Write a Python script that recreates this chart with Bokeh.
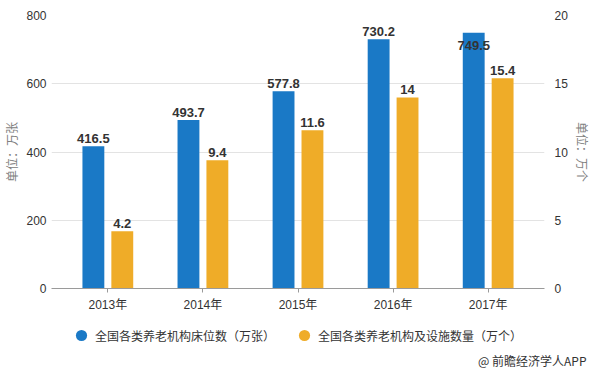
from bokeh.plotting import figure
from bokeh.models import (Range1d, FactorRange, LinearAxis, FixedTicker, Legend, LegendItem,
                          Title, ColumnDataSource)
from bokeh.layouts import column
from bokeh.transform import dodge
from bokeh.core.properties import value
from bokeh.embed import file_html
from bokeh.resources import INLINE

# ---- data ----
years = ["2013年", "2014年", "2015年", "2016年", "2017年"]
beds = [416.5, 493.7, 577.8, 730.2, 749.5]          # 万张 (left axis)
institutions = [4.2, 9.4, 11.6, 14.0, 15.4]          # 万个 (right axis)
beds_labels = ["416.5", "493.7", "577.8", "730.2", "749.5"]
inst_labels = ["4.2", "9.4", "11.6", "14", "15.4"]
left_ticks = [0, 200, 400, 600, 800]
right_ticks = [0, 5, 10, 15, 20]
series_names = ["全国各类养老机构床位数（万张）", "全国各类养老机构及设施数量（万个）"]
left_unit = "单位：万张"
right_unit = "单位：万个"
footer = "@ 前瞻经济学人APP"

BLUE = "#1a79c6"
ORANGE = "#efac28"
TXT = "#333333"
UNIT = "#808080"
NUMFONT = "Liberation Sans"
CJK = "Noto Sans CJK SC"
MIXFONT = "Liberation Sans, Noto Sans CJK SC"

RATIO = 40.0  # right axis max 20 maps to left max 800

src = ColumnDataSource(dict(
    x=years,
    beds=beds,
    inst_scaled=[v * RATIO for v in institutions],
    bl=beds_labels,
    il=inst_labels,
    boff=[-3 if v < 740 else 17 for v in beds],
))

W = 593
BL, BR = 50, 48
p = figure(width=W, height=314, x_range=FactorRange(*years, range_padding=0.037),
           y_range=Range1d(0, 800), output_backend="svg", toolbar_location=None,
           min_border_left=BL, min_border_right=BR, min_border_top=15, min_border_bottom=26)
p.outline_line_color = None
p.background_fill_color = "white"
p.border_fill_color = "white"

p.extra_y_ranges = {"r": Range1d(0, 20)}

bw = 0.23
p.vbar(x=dodge("x", -0.152, range=p.x_range), top="beds", width=bw, source=src,
       fill_color=BLUE, line_color=None)
p.vbar(x=dodge("x", 0.152, range=p.x_range), top="inst_scaled", width=bw, source=src,
       fill_color=ORANGE, line_color=None)

p.text(x=dodge("x", -0.152, range=p.x_range), y="beds", text="bl", source=src,
       text_align="center", text_baseline="bottom", y_offset="boff",
       text_font=value(NUMFONT), text_font_style="bold", text_font_size="13px",
       text_color=TXT)
p.text(x=dodge("x", 0.152, range=p.x_range), y="inst_scaled", text="il", source=src,
       text_align="center", text_baseline="bottom", y_offset=-3,
       text_font=value(NUMFONT), text_font_style="bold", text_font_size="13px",
       text_color=TXT)

# axes
p.yaxis.ticker = FixedTicker(ticks=left_ticks)
p.yaxis.axis_line_color = None
p.yaxis.major_tick_line_color = None
p.yaxis.minor_tick_line_color = None
p.yaxis.major_tick_out = 0
p.yaxis.major_tick_in = 0
p.yaxis.minor_tick_out = 0
p.yaxis.major_label_standoff = 5
p.yaxis.major_label_text_font = NUMFONT
p.yaxis.major_label_text_font_size = "12px"
p.yaxis.major_label_text_color = TXT
p.yaxis.axis_label = left_unit
p.yaxis.axis_label_text_font = CJK
p.yaxis.axis_label_text_font_size = "12px"
p.yaxis.axis_label_text_font_style = "normal"
p.yaxis.axis_label_text_color = UNIT
p.yaxis.axis_label_standoff = 3

ry = LinearAxis(y_range_name="r", ticker=FixedTicker(ticks=right_ticks))
ry.axis_line_color = None
ry.major_tick_line_color = None
ry.minor_tick_line_color = None
ry.major_tick_out = 0
ry.major_tick_in = 0
ry.minor_tick_out = 0
ry.major_label_standoff = 10
ry.major_label_text_font = NUMFONT
ry.major_label_text_font_size = "12px"
ry.major_label_text_color = TXT
ry.axis_label = right_unit
ry.axis_label_text_font = CJK
ry.axis_label_text_font_size = "12px"
ry.axis_label_text_font_style = "normal"
ry.axis_label_text_color = UNIT
ry.axis_label_standoff = 3
p.add_layout(ry, "right")

p.xaxis.axis_line_color = "#9a9a9a"
p.xaxis.major_tick_line_color = "#9a9a9a"
p.xaxis.major_tick_out = 4
p.xaxis.major_tick_in = 0
p.xaxis.major_label_standoff = 5
p.xaxis.major_label_text_font = MIXFONT
p.xaxis.major_label_text_font_size = "12px"
p.xaxis.major_label_text_color = TXT

p.xgrid.grid_line_color = None
p.ygrid.grid_line_color = "#e3e3e3"
p.ygrid.ticker = FixedTicker(ticks=left_ticks)

# ---- legend + footer strip ----
q = figure(width=W, height=54, x_range=Range1d(BL, W - BR), y_range=Range1d(0, 54),
           output_backend="svg", toolbar_location=None,
           min_border_left=BL, min_border_right=BR, min_border_top=0, min_border_bottom=0)
q.axis.visible = False
q.grid.visible = False
q.outline_line_color = None
q.background_fill_color = "white"
q.border_fill_color = "white"

r1 = q.scatter(x=[-100], y=[-100], marker="circle", size=12, fill_color=BLUE, line_color=None)
r2 = q.scatter(x=[-100], y=[-100], marker="circle", size=12, fill_color=ORANGE, line_color=None)
legend = Legend(items=[LegendItem(label=series_names[0], renderers=[r1]),
                       LegendItem(label=series_names[1], renderers=[r2])],
                location=(16, 0), orientation="horizontal",
                padding=0, margin=0, spacing=15, label_standoff=0,
                glyph_width=28, glyph_height=28, label_height=28,
                label_text_font=CJK, label_text_font_size="12px", label_text_color=TXT,
                border_line_color=None, background_fill_alpha=0)
q.add_layout(legend, "center")

q.add_layout(Title(text=footer, align="right", offset=-42, standoff=0,
                   text_font=CJK, text_font_size="12px", text_font_style="normal",
                   text_color=TXT), "below")

layout = column(p, q, spacing=0)
open("out.html", "w").write(file_html(layout, INLINE))
